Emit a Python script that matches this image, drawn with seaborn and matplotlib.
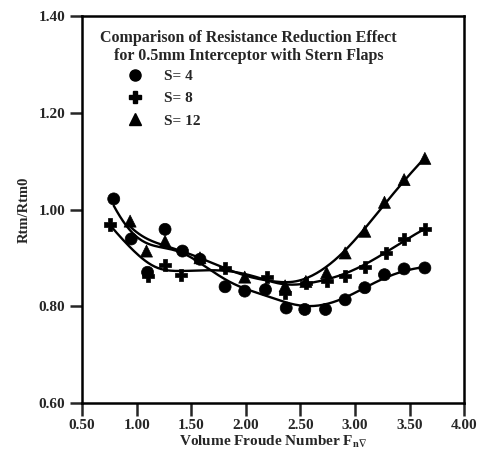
import pandas as pd
import numpy as np
import matplotlib.pyplot as plt
import seaborn as sns

# values (Fn_vol, Rtm/Rtm0)
fn_s4 = [0.79, 0.95, 1.10, 1.26, 1.42, 1.58, 1.81, 1.99, 2.18, 2.37, 2.54, 2.73, 2.91, 3.09, 3.27, 3.45, 3.64]
r_s4 = [1.022, 0.939, 0.870, 0.959, 0.914, 0.897, 0.840, 0.831, 0.834, 0.796, 0.793, 0.793, 0.813, 0.838, 0.865, 0.877, 0.879]

fn_s8 = [0.76, 1.10, 1.26, 1.41, 1.81, 2.19, 2.36, 2.55, 2.74, 2.91, 3.09, 3.28, 3.45, 3.64]
r_s8 = [0.969, 0.862, 0.886, 0.865, 0.879, 0.860, 0.827, 0.848, 0.851, 0.863, 0.881, 0.910, 0.938, 0.959]

fn_s12 = [0.94, 1.09, 1.26, 1.58, 1.99, 2.36, 2.55, 2.74, 2.91, 3.09, 3.27, 3.45, 3.64]
r_s12 = [0.976, 0.914, 0.934, 0.900, 0.860, 0.842, 0.851, 0.869, 0.910, 0.955, 1.015, 1.062, 1.106]

labels = ['S= 4', 'S= 8', 'S= 12']
marks = {'S= 4': 'o', 'S= 8': 'P', 'S= 12': '^'}

df = pd.concat([
    pd.DataFrame({'Fn': fn_s4, 'R': r_s4, 'S': labels[0]}),
    pd.DataFrame({'Fn': fn_s8, 'R': r_s8, 'S': labels[1]}),
    pd.DataFrame({'Fn': fn_s12, 'R': r_s12, 'S': labels[2]}),
])


def trend(x, y, h=0.22):
    # local linear smoother (lowess-like, gaussian weights)
    x = np.asarray(x, dtype=float)
    y = np.asarray(y, dtype=float)
    xs = np.linspace(x.min(), x.max(), 200)
    ys = []
    for x0 in xs:
        w = np.exp(-0.5 * ((x - x0) / h) ** 2)
        X = np.column_stack([np.ones_like(x), x - x0])
        W = np.diag(w)
        b = np.linalg.solve(X.T @ W @ X, X.T @ W @ y)
        ys.append(b[0])
    return xs, np.array(ys)


sns.set_style('white')
plt.rcParams['font.family'] = ['Liberation Serif', 'DejaVu Serif']
plt.rcParams['font.weight'] = 'bold'
plt.rcParams['mathtext.fontset'] = 'stix'

fig = plt.figure(figsize=(4.8, 4.57), dpi=100)
ax = fig.add_axes([0.171, 0.119, 0.796, 0.845])

for lab in labels:
    sub = df[df['S'] == lab]
    xs, ys = trend(sub['Fn'], sub['R'])
    sns.lineplot(x=xs, y=ys, color='black', lw=1.7, ax=ax, sort=False)

sns.scatterplot(x='Fn', y='R', data=df, style='S', markers=marks, color='black',
                s=75, edgecolor='black', linewidth=0.5, legend=False, ax=ax, zorder=5)

ax.set_xlim(0.5, 4.0)
ax.set_ylim(0.6, 1.4)
ax.set_xticks(np.arange(0.5, 4.01, 0.5))
ax.set_yticks(np.arange(0.6, 1.41, 0.2))
ax.set_xticklabels([f'{v:.2f}' for v in np.arange(0.5, 4.01, 0.5)])
ax.set_yticklabels([f'{v:.2f}' for v in np.arange(0.6, 1.41, 0.2)])
ax.tick_params(axis='both', direction='out', length=9, width=1.8, labelsize=11,
               bottom=True, left=True, pad=3)
for sp in ax.spines.values():
    sp.set_linewidth(1.8)
    sp.set_color('black')

ax.set_xlabel(r'Volume Froude Number F$_{\mathbf{n}\nabla}$', fontsize=11, fontweight='bold', labelpad=1)
ax.set_ylabel('Rtm/Rtm0', fontsize=10.5, fontweight='bold', labelpad=6)

ax.text(0.435, 0.965, 'Comparison of Resistance Reduction Effect\nfor 0.5mm Interceptor with Stern Flaps',
        transform=ax.transAxes, ha='center', va='top', fontsize=11.5, fontweight='bold',
        linespacing=1.15)

handles = [plt.Line2D([], [], ls='none', marker=marks[l], color='black', markersize=8) for l in labels]
ax.legend(handles, labels, loc='upper left', bbox_to_anchor=(0.07, 0.89), frameon=False,
          prop={'weight': 'bold', 'size': 11}, handletextpad=0.9, labelspacing=0.55,
          borderpad=0.2)

fig.savefig('out.png', dpi=100)
